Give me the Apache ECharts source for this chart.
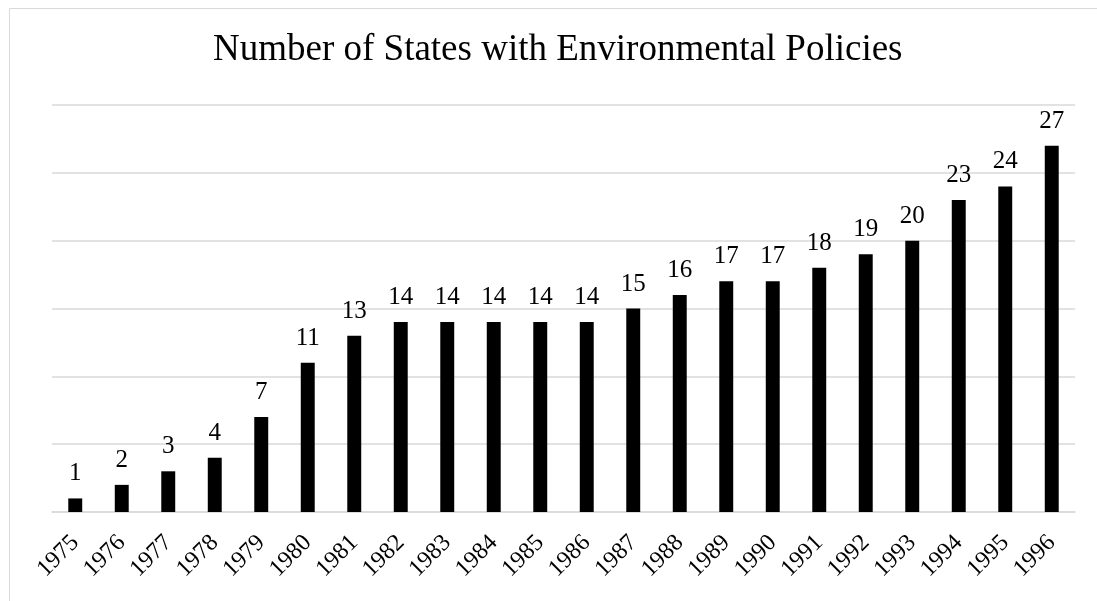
<!DOCTYPE html>
<html>
<head>
<meta charset="utf-8">
<script src="https://cdn.jsdelivr.net/npm/echarts@6/dist/echarts.min.js"></script>
<style>
  html, body { margin: 0; padding: 0; background: #fff; }
  #chart { width: 1097px; height: 601px; }
</style>
</head>
<body>
<div id="chart"></div>
<script>
// Years on the category axis
const years = ['1975','1976','1977','1978','1979','1980','1981','1982','1983','1984','1985',
               '1986','1987','1988','1989','1990','1991','1992','1993','1994','1995','1996'];
// Cumulative number of states with environmental policies
const stateCounts = [1,2,3,4,7,11,13,14,14,14,14,14,15,16,17,17,18,19,20,23,24,27];

const serif = '"Liberation Serif", "Times New Roman", serif';
const chart = echarts.init(document.getElementById('chart'), null, { renderer: 'canvas' });

chart.setOption({
  animation: false,
  backgroundColor: '#fff',
  graphic: [{
    type: 'rect',
    shape: { x: 9.5, y: 8.5, width: 1200, height: 700 },
    style: { fill: 'none', stroke: '#d9d9d9', lineWidth: 1 },
    silent: true
  }],
  title: {
    text: 'Number of States with Environmental Policies',
    left: 208,
    top: 27,
    textStyle: { fontFamily: serif, fontSize: 37, fontWeight: 'normal', color: '#000' }
  },
  grid: { left: 52, right: 22, top: 105, bottom: 89, containLabel: false },
  xAxis: {
    type: 'category',
    data: years,
    axisLine: { show: true, lineStyle: { color: '#d9d9d9', width: 1.5 } },
    axisTick: { show: false },
    axisLabel: {
      rotate: 45,
      margin: 27,
      interval: 0,
      fontFamily: serif,
      fontSize: 24,
      color: '#000'
    }
  },
  yAxis: {
    type: 'value',
    min: 0,
    max: 30,
    interval: 5,
    axisLine: { show: false },
    axisTick: { show: false },
    axisLabel: { show: false },
    splitLine: { lineStyle: { color: '#d9d9d9', width: 1.5 } }
  },
  series: [{
    type: 'bar',
    data: stateCounts,
    barWidth: '30%',
    itemStyle: { color: '#000' },
    label: {
      show: true,
      position: 'top',
      distance: 12,
      fontFamily: serif,
      fontSize: 25,
      color: '#000'
    }
  }]
});
</script>
</body>
</html>
